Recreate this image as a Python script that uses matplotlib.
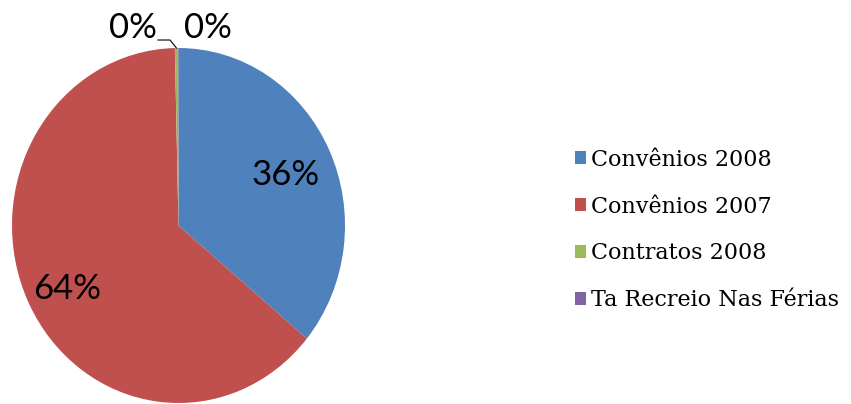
import numpy as np
import matplotlib.pyplot as plt
from matplotlib.patches import Patch

# slice shares in percent
labels = ['Convênios 2008', 'Convênios 2007', 'Contratos 2008', 'Ta Recreio Nas Férias']
values = [36.0, 63.65, 0.30, 0.05]
colors = ['#4F81BD', '#C0504D', '#9BBB59', '#8064A2']

# where each percentage label sits (data coords, pie radius = 1)
label_xy = [(0.646, 0.285), (-0.67, -0.358), (-0.273, 1.113), (0.177, 1.113)]

fig = plt.figure(figsize=(8.51, 4.04), dpi=100)
# the pie is drawn slightly taller than wide
ax = fig.add_axes([12 / 851, 1 / 404, 333 / 851, 355 / 404])

wedges, texts, autotexts = ax.pie(values, colors=colors, startangle=90, counterclock=False,
                                  autopct='%.0f%%', pctdistance=0.7,
                                  wedgeprops=dict(linewidth=0),
                                  textprops=dict(family='Lato', fontsize=25, color='black'))
ax.set_aspect('auto')
ax.set_xlim(-1, 1)
ax.set_ylim(-1, 1)

for t, (x, y) in zip(autotexts, label_xy):
    t.set_position((x, y))
    t.set_clip_on(False)

# leader line from the green slice to its label
w = wedges[2]
mid = np.deg2rad((w.theta1 + w.theta2) / 2)
px, py = np.cos(mid), np.sin(mid)
ax.plot([-0.123, -0.051, px], [1.045, 1.045, py],
        color='black', lw=0.8, clip_on=False)

handles = [Patch(facecolor=c, edgecolor='none') for c in colors]
fig.legend(handles, labels, loc='center left', bbox_to_anchor=(575 / 851, 0.4307),
           frameon=False, prop=dict(family='DejaVu Serif', size=16),
           handlelength=0.5, handleheight=0.5, handletextpad=0.2,
           labelspacing=1.12, borderpad=0, borderaxespad=0)

fig.savefig('out.png', dpi=100)
